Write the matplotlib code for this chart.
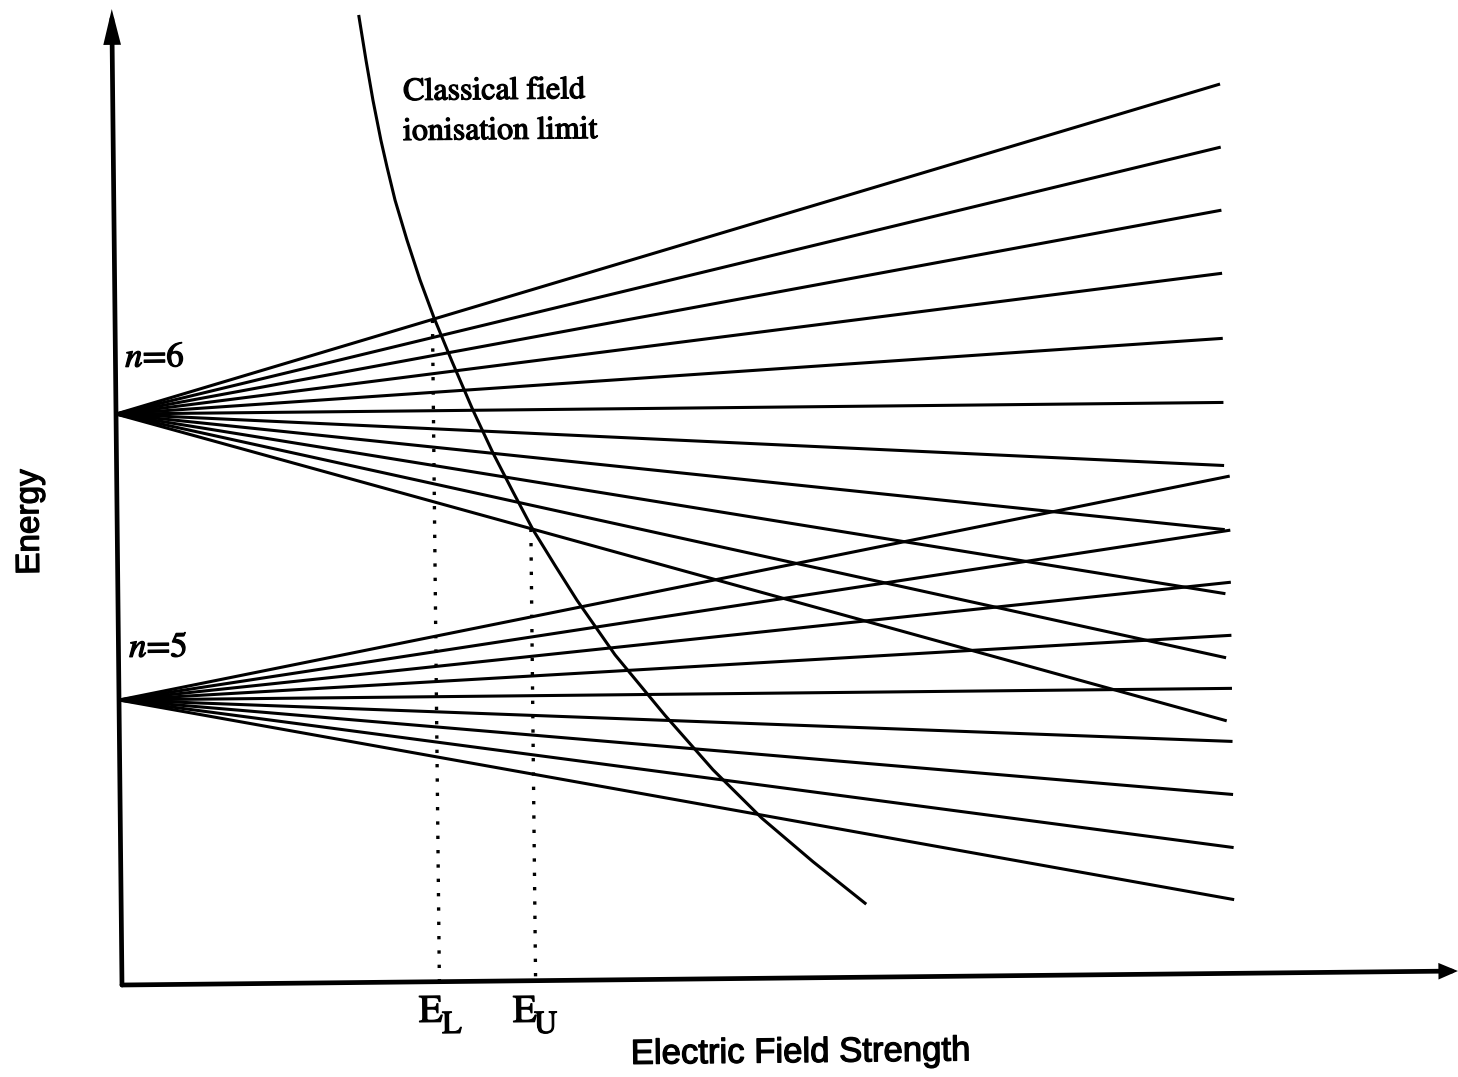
import matplotlib
matplotlib.use("Agg")
import matplotlib.pyplot as plt
import matplotlib.patheffects as pe
from matplotlib.transforms import Affine2D
from matplotlib.patches import FancyArrowPatch

plt.rcParams["mathtext.fontset"] = "stix"

# Stark fans (arbitrary units): level at zero field, energies where the lines stop
n6_level = 5.71
n6_field_end = 1.0
n6_end_energy = [8.89, 8.26, 7.63, 7.00, 6.35, 5.71, 5.08, 4.44, 3.80, 3.16, 2.53]

n5_level = 2.85
n5_field_end = 1.005
n5_end_energy = [4.97, 4.43, 3.91, 3.38, 2.85, 2.32, 1.79, 1.26, 0.74]

# classical field ionisation limit
limit_field = [0.2234, 0.2294, 0.2353, 0.2421, 0.2474, 0.2543, 0.2647, 0.2761,
               0.2884, 0.3043, 0.3228, 0.3405, 0.3582, 0.3759, 0.3955, 0.4150,
               0.4489, 0.4935, 0.5364, 0.5802, 0.6260, 0.6726]
limit_energy = [9.66, 9.22, 8.82, 8.42, 8.15, 7.82, 7.42, 7.02,
                6.64, 6.20, 5.71, 5.28, 4.89, 4.51, 4.15, 3.80,
                3.25, 2.64, 2.09, 1.60, 1.16, 0.74]

# marked fields E_L and E_U (where the limit crosses the outer n=6 lines)
EL_field, EL_energy = 0.287, 6.62
EU_field, EU_energy = 0.374, 4.52

field_max = 1.208
energy_max = 9.76

fig = plt.figure(figsize=(14.58, 10.77), dpi=100)
ax = fig.add_axes([0, 0, 1, 1])
ax.set_xlim(-0.1103, 1.2080)
ax.set_ylim(-0.92, 9.85)
ax.axis("off")

# the scanned page is turned a little, so tilt everything about the origin
ox, oy = ax.transData.transform((0, 0))
tilt = ax.transData + Affine2D().rotate_deg_around(ox, oy, 0.6)

heavy = [pe.withStroke(linewidth=0.9, foreground="black")]

# axes with arrow heads
ax.add_patch(FancyArrowPatch((0, 0), (0, energy_max), transform=tilt,
                             arrowstyle="-|>,head_length=17,head_width=4.2",
                             mutation_scale=1, lw=3.4, color="black",
                             shrinkA=0, shrinkB=0, joinstyle="miter"))
ax.add_patch(FancyArrowPatch((0, 0), (field_max, 0), transform=tilt,
                             arrowstyle="-|>,head_length=8,head_width=3.4",
                             mutation_scale=1, lw=3.4, color="black",
                             shrinkA=0, shrinkB=0, joinstyle="miter"))

# fans
for e in n6_end_energy:
    ax.plot([0, n6_field_end], [n6_level, e], color="black", lw=2.2, transform=tilt)
for e in n5_end_energy:
    ax.plot([0, n5_field_end], [n5_level, e], color="black", lw=2.2, transform=tilt)

# ionisation limit
ax.plot(limit_field, limit_energy, color="black", lw=2.2, transform=tilt)

# dotted drop lines
ax.plot([EL_field, EL_field], [EL_energy, 0], color="black", lw=2.4,
        linestyle=(0, (1, 3.3)), transform=tilt)
ax.plot([EU_field, EU_field], [EU_energy, 0], color="black", lw=2.4,
        linestyle=(0, (1, 3.3)), transform=tilt)

# labels
serif = dict(family="STIXGeneral", ha="left", va="baseline", transform=tilt,
             rotation=0.6, path_effects=heavy)
ax.text(0.2625, 8.82, "Classical field", fontsize=23, **serif)
ax.text(0.2620, 8.42, "ionisation limit", fontsize=23, **serif)
ax.text(0.0086, 6.18, r"$n$=6", fontsize=25, **serif)
ax.text(0.0094, 3.28, r"$n$=5", fontsize=25, **serif)
ax.text(0.268, -0.40, "E", fontsize=28, **serif)
ax.text(0.2889, -0.514, "L", fontsize=23, **serif)
ax.text(0.353, -0.41, "E", fontsize=28, **serif)
ax.text(0.3721, -0.523, "U", fontsize=23, **serif)

ax.text(-0.0788, 4.64, "Energy", family="Liberation Sans", fontsize=24,
        ha="center", va="center", rotation=90.6, transform=tilt, path_effects=heavy)
ax.text(0.613, -0.86, "Electric Field Strength", family="Liberation Sans",
        fontsize=25, ha="center", va="baseline", rotation=0.6, transform=tilt,
        path_effects=heavy)

fig.savefig("out.png", dpi=100)
